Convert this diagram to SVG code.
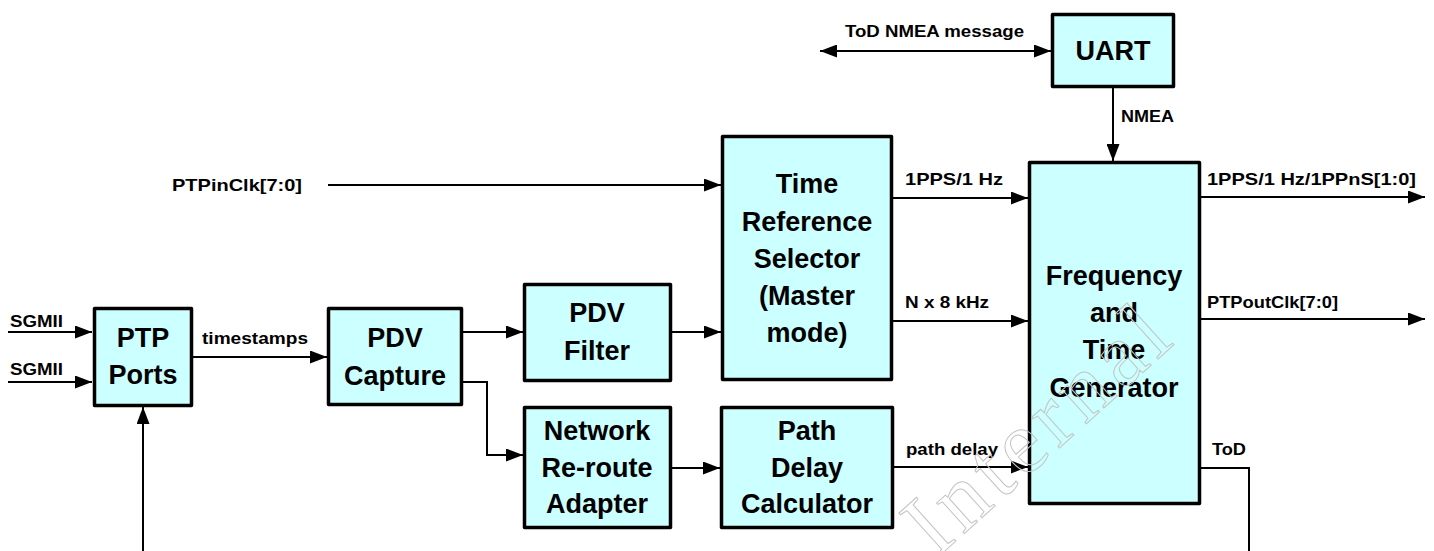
<svg xmlns="http://www.w3.org/2000/svg" width="1434" height="551" viewBox="0 0 1434 551">
<style>
.box{fill:#ccffff;stroke:#000;stroke-width:3.5;stroke-linejoin:round}
.big{font-family:"Liberation Sans",Arial,sans-serif;font-weight:bold;font-size:27px;text-anchor:middle;fill:#000}
.lbl{font-family:"Liberation Sans",Arial,sans-serif;font-weight:bold;font-size:17px;fill:#000}
.wire{fill:none;stroke:#000;stroke-width:2}
.arr{marker-end:url(#ah)}
.wm{font-family:"Liberation Serif","Times New Roman",serif;font-size:90px;fill:none;stroke:#c4c4c4;stroke-width:1}
</style>
<defs>
<marker id="ah" markerUnits="userSpaceOnUse" markerWidth="17" markerHeight="13" refX="17" refY="6.5" orient="auto-start-reverse">
<path d="M0,0 L17,6.5 L0,13 z" fill="#000"/>
</marker>
</defs>
<rect width="1434" height="551" fill="#fff"/>

<g id="connectors">
<path class="wire arr" d="M8,332 H92"/>
<path class="wire arr" d="M8,382 H92"/>
<path class="wire arr" d="M143,551 V407"/>
<path class="wire arr" d="M192,357 H327"/>
<path class="wire arr" d="M328,185 H721"/>
<path class="wire arr" d="M463,332 H523"/>
<path class="wire arr" d="M672,332 H721"/>
<path class="wire arr" d="M463,382 H487 V455 H523"/>
<path class="wire arr" d="M672,468 H720"/>
<path class="wire arr" d="M894,467 H1028"/>
<path class="wire arr" d="M893,198 H1028"/>
<path class="wire arr" d="M893,321 H1028"/>
<path class="wire" d="M820,51 H1051" marker-start="url(#ah)" marker-end="url(#ah)"/>
<path class="wire arr" d="M1113,88 V161"/>
<path class="wire arr" d="M1200,197 H1425"/>
<path class="wire arr" d="M1200,319 H1425"/>
<path class="wire" d="M1200,468 H1249 V551"/>
<text class="lbl" x="10" y="327" textLength="53" lengthAdjust="spacingAndGlyphs">SGMII</text>
<text class="lbl" x="10" y="375" textLength="53" lengthAdjust="spacingAndGlyphs">SGMII</text>
<text class="lbl" x="202" y="344" textLength="106" lengthAdjust="spacingAndGlyphs">timestamps</text>
<text class="lbl" x="172" y="191" textLength="130" lengthAdjust="spacingAndGlyphs">PTPinClk[7:0]</text>
<text class="lbl" x="845" y="37" textLength="179" lengthAdjust="spacingAndGlyphs">ToD NMEA message</text>
<text class="lbl" x="1121" y="122" textLength="53" lengthAdjust="spacingAndGlyphs">NMEA</text>
<text class="lbl" x="905" y="185" textLength="98" lengthAdjust="spacingAndGlyphs">1PPS/1 Hz</text>
<text class="lbl" x="905" y="308" textLength="84" lengthAdjust="spacingAndGlyphs">N x 8 kHz</text>
<text class="lbl" x="906" y="455" textLength="92" lengthAdjust="spacingAndGlyphs">path delay</text>
<text class="lbl" x="1207" y="185" textLength="209" lengthAdjust="spacingAndGlyphs">1PPS/1 Hz/1PPnS[1:0]</text>
<text class="lbl" x="1207" y="308" textLength="131" lengthAdjust="spacingAndGlyphs">PTPoutClk[7:0]</text>
<text class="lbl" x="1212" y="455" textLength="34" lengthAdjust="spacingAndGlyphs">ToD</text>
</g>

<g id="ptp-ports">
<rect class="box" x="94.5" y="308.5" width="97" height="97"/>
<text class="big" x="143" y="347">PTP</text>
<text class="big" x="143" y="384">Ports</text>
</g>
<g id="pdv-capture">
<rect class="box" x="328.5" y="308.5" width="133" height="96"/>
<text class="big" x="395" y="347">PDV</text>
<text class="big" x="395" y="385">Capture</text>
</g>
<g id="pdv-filter">
<rect class="box" x="524.5" y="284.5" width="146" height="96"/>
<text class="big" x="597" y="322">PDV</text>
<text class="big" x="597" y="360">Filter</text>
</g>
<g id="time-reference-selector">
<rect class="box" x="722.5" y="136.5" width="169" height="243"/>
<text class="big" x="807" y="193">Time</text>
<text class="big" x="807" y="231">Reference</text>
<text class="big" x="807" y="268">Selector</text>
<text class="big" x="807" y="305">(Master</text>
<text class="big" x="807" y="342">mode)</text>
</g>
<g id="network-reroute-adapter">
<rect class="box" x="524.5" y="407.5" width="146" height="120"/>
<text class="big" x="597" y="440">Network</text>
<text class="big" x="597" y="477">Re-route</text>
<text class="big" x="597" y="513">Adapter</text>
</g>
<g id="path-delay-calculator">
<rect class="box" x="721.5" y="407.5" width="171" height="120"/>
<text class="big" x="807" y="440">Path</text>
<text class="big" x="807" y="477">Delay</text>
<text class="big" x="807" y="513">Calculator</text>
</g>
<g id="uart">
<rect class="box" x="1052.5" y="14.5" width="121" height="72"/>
<text class="big" x="1113" y="60">UART</text>
</g>
<g id="frequency-time-generator">
<rect class="box" x="1029.5" y="162.5" width="170" height="341"/>
<text class="big" x="1114" y="285">Frequency</text>
<text class="big" x="1114" y="322">and</text>
<text class="big" x="1114" y="359">Time</text>
<text class="big" x="1114" y="397">Generator</text>
</g>

<text class="wm" x="936" y="559" transform="rotate(-42 936 559)" textLength="322" lengthAdjust="spacing">Internal</text>
</svg>
